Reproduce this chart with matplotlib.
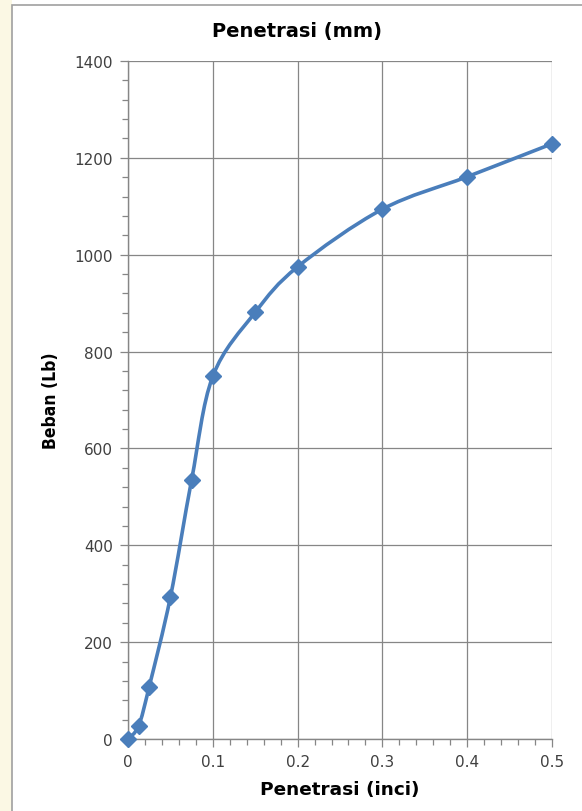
import matplotlib
matplotlib.use("Agg")
import matplotlib.pyplot as plt
from matplotlib.path import Path
from matplotlib.patches import PathPatch, Rectangle
from matplotlib.ticker import MultipleLocator
import numpy as np

# Penetration (inch) versus load (lb)
penetrasi = [0.0, 0.0125, 0.025, 0.05, 0.075, 0.1, 0.15, 0.2, 0.3, 0.4, 0.5]
beban = [0, 27, 108, 293, 535, 749, 881, 975, 1094, 1161, 1229]

x_ticks = [0, 0.1, 0.2, 0.3, 0.4, 0.5]
y_ticks = [0, 200, 400, 600, 800, 1000, 1200, 1400]

LINE = "#4a7ebb"
GRID = "#868686"
TXT = "#404040"

plt.rcParams["font.family"] = ["DejaVu Sans"]

fig = plt.figure(figsize=(5.82, 8.12), dpi=100)
W, H = 582, 812

# pale sheet strip on the left and the chart frame
fig.patches.append(Rectangle((0, 0), 12 / W, 1, transform=fig.transFigure,
                             facecolor="#fbf8e4", edgecolor="none", zorder=-3))
fig.patches.append(Rectangle((12 / W, -0.01), 1, 1 - 6 / H + 0.01, transform=fig.transFigure,
                             facecolor="white", edgecolor="#a0a0a0", lw=1.2, zorder=-2))

ax = fig.add_axes([128 / W, 1 - 740 / H, (552 - 128) / W, (740 - 62) / H])
ax.set_zorder(1)
ax.set_facecolor("white")
ax.set_xlim(0, 0.5)
ax.set_ylim(0, 1400)

# smoothed curve through the points (Catmull-Rom as cubic Bezier segments)
pts = np.column_stack([penetrasi, beban]).astype(float)
verts = [tuple(pts[0])]
codes = [Path.MOVETO]
n = len(pts)
for i in range(n - 1):
    p0 = pts[i - 1] if i > 0 else pts[i]
    p1 = pts[i]
    p2 = pts[i + 1]
    p3 = pts[i + 2] if i + 2 < n else pts[i + 1]
    c1 = p1 + (p2 - p0) / 6.0
    c2 = p2 - (p3 - p1) / 6.0
    verts += [tuple(c1), tuple(c2), tuple(p2)]
    codes += [Path.CURVE4] * 3
ax.add_patch(PathPatch(Path(verts, codes), facecolor="none", edgecolor=LINE,
                       lw=2.6, zorder=3, capstyle="round", joinstyle="round"))
ax.plot(penetrasi, beban, linestyle="none", marker="D", markersize=8.5,
        color=LINE, markeredgecolor=LINE, zorder=4, clip_on=False)

ax.set_xticks(x_ticks)
ax.set_yticks(y_ticks)
ax.set_xticklabels(["0", "0.1", "0.2", "0.3", "0.4", "0.5"])
ax.set_yticklabels([str(v) for v in y_ticks])
ax.xaxis.set_minor_locator(MultipleLocator(0.02))
ax.yaxis.set_minor_locator(MultipleLocator(40))
ax.grid(True, which="major", color=GRID, lw=0.9)
ax.set_axisbelow(True)
for s in ["top", "right"]:
    ax.spines[s].set_visible(False)
for s in ["left", "bottom"]:
    ax.spines[s].set_color(GRID)
    ax.spines[s].set_linewidth(1.0)
ax.tick_params(which="major", direction="out", length=6, color=GRID, width=0.9,
               labelsize=11, labelcolor=TXT, pad=5)
ax.tick_params(which="minor", direction="out", length=4, color=GRID, width=0.9)

ax.set_xlabel("Penetrasi (inci)", fontsize=13.3, fontweight="bold", color="black", labelpad=8)
ax.set_ylabel("Beban (Lb)", fontsize=12.5, fontweight="bold", fontstretch="condensed",
              color="black", labelpad=10)
fig.text(297 / W, 1 - 32 / H, "Penetrasi (mm)", ha="center", va="center",
         fontsize=14, fontweight="bold", color="black")

fig.savefig("out.png", dpi=100)
